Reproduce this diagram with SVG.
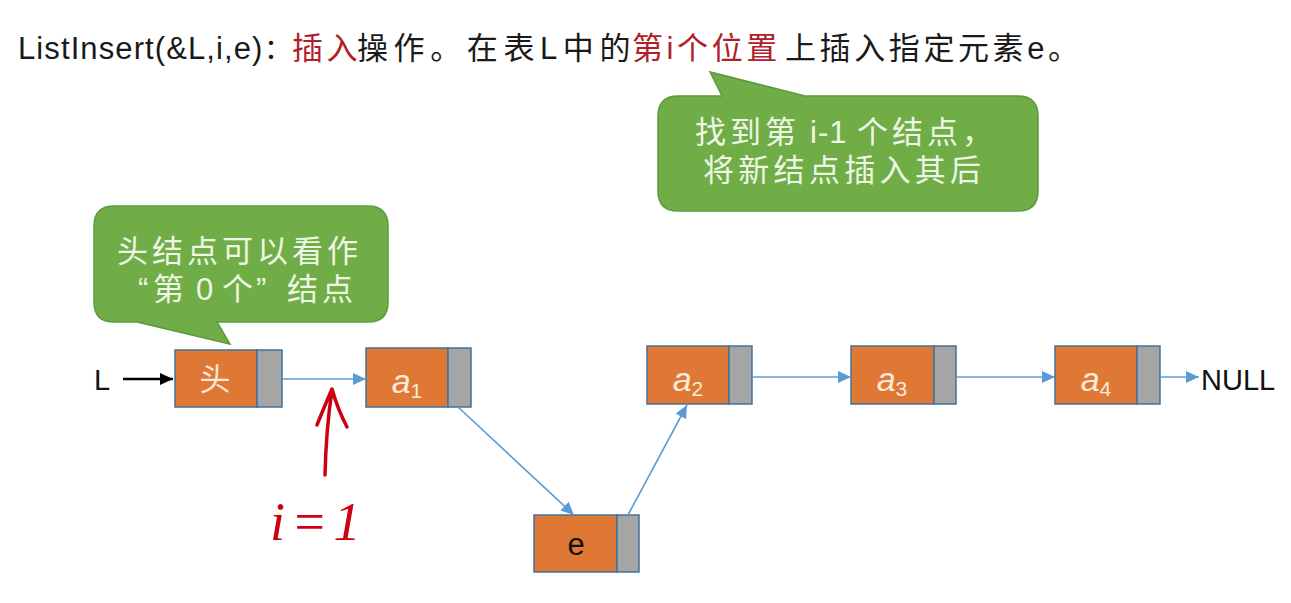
<svg xmlns="http://www.w3.org/2000/svg" width="1291" height="603" viewBox="0 0 1291 603">
<style>
.title{font-family:"Liberation Sans","Noto Sans CJK SC",sans-serif;font-size:31px;fill:#1a1a1a}
.red{fill:#B0202A}
.lat{letter-spacing:1.1px}
.cjk{letter-spacing:3.6px}
.callout{fill:#70AD47;stroke:#5E9A3C;stroke-width:1.5}
.ctext{font-family:"Liberation Sans","Noto Sans CJK SC",sans-serif;font-size:31px;fill:#EEF6E6;letter-spacing:4px}
.data{fill:#E07835;stroke:#41719C;stroke-width:1.5}
.ptr{fill:#A5A5A5;stroke:#41719C;stroke-width:1.5}
.lbl{font-family:"Liberation Sans","Noto Sans CJK SC",sans-serif;font-size:34px;fill:#FBE9DA;text-anchor:middle}
.lbl tspan.s{font-size:21px;font-style:normal}
.plain{font-family:"Liberation Sans",sans-serif;font-size:29px;fill:#111}
.conn{stroke:#5B9BD5;stroke-width:1.6;fill:none;marker-end:url(#blue)}
.hand{stroke:#CC0010;stroke-width:3.5;fill:none;stroke-linecap:round;stroke-linejoin:round}
</style>
<defs>
<marker id="blue" markerUnits="userSpaceOnUse" markerWidth="14" markerHeight="12" refX="13" refY="6" orient="auto">
<path d="M0,0 L13,6 L0,12 Z" fill="#5B9BD5"/>
</marker>
<marker id="black" markerUnits="userSpaceOnUse" markerWidth="14" markerHeight="12" refX="13" refY="6" orient="auto">
<path d="M0,0 L13,6 L0,12 Z" fill="#000"/>
</marker>
</defs>
<rect width="1291" height="603" fill="#fff"/>

<g id="title">
<text class="title" y="59"><tspan x="18" class="lat">ListInsert(&amp;L,i,e)</tspan><tspan x="264" style="font-family:'Noto Sans CJK SC',sans-serif;font-size:28px">：</tspan><tspan x="292" class="red cjk">插入</tspan><tspan x="357" style="letter-spacing:5.6px">操作。在表L中的</tspan><tspan x="632" class="red cjk">第i个位置</tspan><tspan x="785" class="cjk">上插入指定元素e。</tspan></text>
</g>

<g id="callout-head">
<path class="callout" d="M114,206 H368 Q388,206 388,226 V302 Q388,322 368,322 H217 L230,344 L137,322 H114 Q94,322 94,302 V226 Q94,206 114,206 Z"/>
<text class="ctext" x="117" y="262">头结点可以看作</text>
<text class="ctext" y="300"><tspan x="138">“</tspan><tspan x="153">第</tspan><tspan x="196">0</tspan><tspan x="222">个</tspan><tspan x="256">”</tspan><tspan x="287">结点</tspan></text>
</g>

<g id="callout-find">
<path class="callout" d="M678,96 H722 L710,72 L805,96 H1018 Q1038,96 1038,116 V191 Q1038,211 1018,211 H678 Q658,211 658,191 V116 Q658,96 678,96 Z"/>
<text class="ctext" y="143"><tspan x="695">找到第</tspan><tspan x="810" style="letter-spacing:1px">i-1</tspan><tspan x="857">个结点，</tspan></text>
<text class="ctext" x="703" y="181" style="letter-spacing:4.3px">将新结点插入其后</text>
</g>

<g id="L-label"><text class="plain" x="94" y="390">L</text></g>

<g id="node-head">
<rect class="data" x="175" y="350" width="82" height="57"/>
<rect class="ptr" x="257" y="350" width="25" height="57"/>
<text class="lbl" x="215" y="390" style="font-family:'Noto Sans CJK SC',sans-serif;font-size:31px">头</text>
</g>

<g id="node-a1">
<rect class="data" x="366" y="348" width="82" height="59"/>
<rect class="ptr" x="448" y="348" width="23" height="59"/>
<text class="lbl" x="407" y="393"><tspan font-style="italic">a</tspan><tspan class="s" dy="5">1</tspan></text>
</g>

<g id="node-e">
<rect class="data" x="534" y="515" width="83" height="57"/>
<rect class="ptr" x="617" y="515" width="22" height="57"/>
<text class="plain" x="576" y="555" text-anchor="middle" style="font-size:31px">e</text>
</g>

<g id="node-a2">
<rect class="data" x="647" y="346" width="82" height="58"/>
<rect class="ptr" x="729" y="346" width="23" height="58"/>
<text class="lbl" x="688" y="391"><tspan font-style="italic">a</tspan><tspan class="s" dy="5">2</tspan></text>
</g>

<g id="node-a3">
<rect class="data" x="851" y="346" width="83" height="58"/>
<rect class="ptr" x="934" y="346" width="22" height="58"/>
<text class="lbl" x="892" y="391"><tspan font-style="italic">a</tspan><tspan class="s" dy="5">3</tspan></text>
</g>

<g id="node-a4">
<rect class="data" x="1055" y="346" width="82" height="58"/>
<rect class="ptr" x="1137" y="346" width="23" height="58"/>
<text class="lbl" x="1096" y="391"><tspan font-style="italic">a</tspan><tspan class="s" dy="5">4</tspan></text>
</g>

<g id="null-label"><text class="plain" x="1201" y="390">NULL</text></g>

<g id="connectors">
<line x1="123" y1="379" x2="173" y2="379" stroke="#000" stroke-width="2.5" marker-end="url(#black)"/>
<line class="conn" x1="282" y1="379" x2="366" y2="379"/>
<line class="conn" x1="458" y1="407" x2="574" y2="515"/>
<line class="conn" x1="628" y1="515" x2="687" y2="405"/>
<line class="conn" x1="752" y1="377" x2="851" y2="377"/>
<line class="conn" x1="956" y1="377" x2="1055" y2="377"/>
<line class="conn" x1="1160" y1="377" x2="1199" y2="377"/>
</g>

<g id="annotation">
<path class="hand" d="M325,475 Q326,430 332,390 M317,425 Q325,405 332,389 Q338,410 347,427"/>
<text x="270" y="540" style="font-family:'Liberation Serif',serif;font-style:italic;font-size:54px;fill:#CC0010;letter-spacing:6px">i=1</text>
</g>
</svg>
